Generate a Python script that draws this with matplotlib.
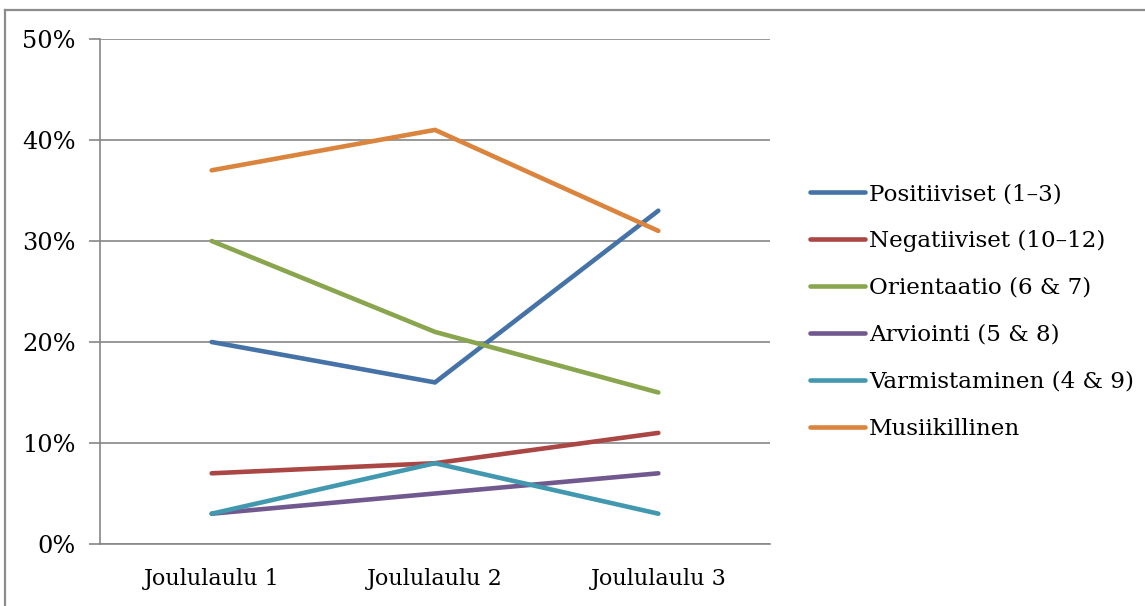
import matplotlib
matplotlib.use("Agg")
import matplotlib.pyplot as plt
from matplotlib.lines import Line2D
from matplotlib.ticker import FuncFormatter

categories = ["Joululaulu 1", "Joululaulu 2", "Joululaulu 3"]
series_names = [
    "Positiiviset (1–3)",
    "Negatiiviset (10–12)",
    "Orientaatio (6 & 7)",
    "Arviointi (5 & 8)",
    "Varmistaminen (4 & 9)",
    "Musiikillinen",
]
positiiviset = [0.20, 0.16, 0.33]
negatiiviset = [0.07, 0.08, 0.11]
orientaatio = [0.30, 0.21, 0.15]
arviointi = [0.03, 0.05, 0.07]
varmistaminen = [0.03, 0.08, 0.03]
musiikillinen = [0.37, 0.41, 0.31]
yticks = [0.0, 0.1, 0.2, 0.3, 0.4, 0.5]

colors = ["#4573A7", "#AA4643", "#89A54E", "#71588F", "#4198AF", "#DB843D"]
all_series = [positiiviset, negatiiviset, orientaatio, arviointi, varmistaminen, musiikillinen]

plt.rcParams["font.family"] = ["DejaVu Serif"]
grid_col = "#868686"
LW = 3.3

fig = plt.figure(figsize=(11.45, 6.06), dpi=100)
ax = fig.add_axes([100 / 1145, 1 - 544 / 606, 670 / 1145, 505 / 606])

x = list(range(len(categories)))
for vals, name, col in zip(all_series, series_names, colors):
    ax.plot(x, vals, color=col, lw=LW, solid_capstyle="round",
            solid_joinstyle="miter", label=name, zorder=3)

ax.set_xlim(-0.5, 2.5)
ax.set_ylim(0, 0.5)
ax.set_yticks(yticks)
ax.yaxis.set_major_formatter(FuncFormatter(lambda v, p: f"{v * 100:.0f}%"))
ax.set_xticks(x)
ax.set_xticklabels(categories)
ax.tick_params(axis="x", length=0, pad=17, labelsize=16)
ax.tick_params(axis="y", length=8, width=1.2, color=grid_col, pad=9.5, labelsize=17.3)
ax.grid(axis="y", color=grid_col, lw=1.2, zorder=0)
ax.set_axisbelow(True)
for s in ["top", "right"]:
    ax.spines[s].set_visible(False)
for s in ["left", "bottom"]:
    ax.spines[s].set_color(grid_col)
    ax.spines[s].set_linewidth(1.2)

leg_handles = [Line2D([0], [0], color=c, lw=LW, solid_capstyle="round") for c in colors]
fig.legend(leg_handles, series_names, loc="upper left",
           bbox_to_anchor=(810 / 1145, 1 - 183 / 606), frameon=False,
           fontsize=16.6, handlelength=2.4, handletextpad=0.15,
           labelspacing=1.08, borderpad=0, borderaxespad=0)

# outer chart border
fig.add_artist(Line2D([5 / 1145, 5 / 1145], [0, 1 - 9.5 / 606], color="#8C8C8C", lw=1.6))
fig.add_artist(Line2D([5 / 1145, 1], [1 - 9.5 / 606, 1 - 9.5 / 606], color="#8C8C8C", lw=1.6))

fig.savefig("out.png", dpi=100)
